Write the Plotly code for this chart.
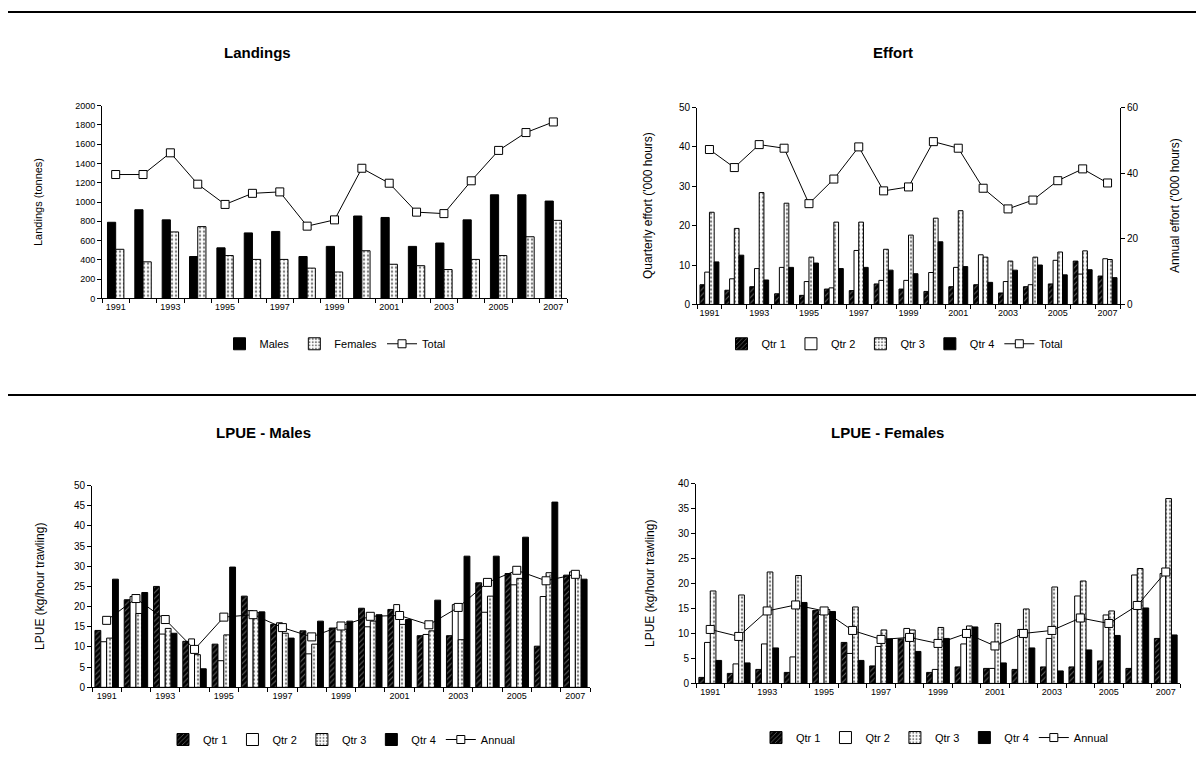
import plotly.graph_objects as go

PAGE_W, PAGE_H = 1204, 778
OFF = 8  # browser default body margin
W, H = PAGE_W - OFF, PAGE_H - OFF

years = [str(y) for y in range(1991, 2008)]
year_labels = [y if int(y) % 2 == 1 else "" for y in years]

# Landings (tonnes)
land_males = [790, 920, 815, 435, 525, 680, 695, 435, 540, 855, 840, 540, 575, 815, 1075, 1075, 1010]
land_females = [510, 380, 690, 745, 445, 405, 405, 315, 275, 495, 355, 340, 300, 405, 445, 640, 810]
land_total = [1285, 1285, 1510, 1185, 975, 1090, 1105, 750, 815, 1350, 1195, 895, 880, 1220, 1535, 1720, 1830]

# Effort ('000 hours)
eff_q1 = [5.0, 3.6, 4.5, 2.7, 2.3, 3.9, 3.5, 5.2, 3.9, 3.3, 4.5, 5.0, 2.9, 4.5, 5.2, 11.0, 7.2]
eff_q2 = [8.2, 6.5, 9.1, 9.4, 5.8, 4.2, 13.7, 6.1, 6.1, 8.1, 9.4, 12.6, 5.8, 5.0, 11.2, 7.7, 11.6]
eff_q3 = [23.4, 19.3, 28.4, 25.7, 12.0, 20.9, 20.9, 14.0, 17.6, 21.9, 23.8, 12.0, 11.0, 12.0, 13.3, 13.6, 11.4]
eff_q4 = [10.8, 12.5, 6.2, 9.4, 10.5, 9.1, 9.4, 8.7, 7.8, 15.9, 9.6, 5.6, 8.7, 10.0, 7.5, 8.8, 6.8]
eff_total = [47.2, 41.7, 48.7, 47.6, 30.7, 38.2, 48.0, 34.6, 35.8, 49.6, 47.6, 35.4, 29.1, 31.8, 37.7, 41.3, 37.0]

# LPUE Males (kg/hour trawling)
m_q1 = [14.1, 21.7, 25.0, 11.4, 10.7, 22.6, 15.6, 14.0, 14.7, 19.6, 19.3, 12.8, 12.8, 25.9, 28.2, 10.2, 27.8]
m_q2 = [11.3, 22.5, 13.2, 12.0, 6.6, 19.0, 16.0, 8.3, 11.3, 15.0, 20.5, 13.1, 20.5, 18.6, 25.4, 22.5, 28.6]
m_q3 = [12.2, 18.3, 14.6, 8.1, 13.0, 18.5, 13.4, 10.7, 14.4, 16.4, 15.6, 14.0, 11.8, 22.6, 27.0, 28.4, 27.8]
m_q4 = [26.8, 23.5, 13.4, 4.6, 29.8, 18.7, 12.2, 16.4, 16.4, 18.0, 16.8, 21.6, 32.5, 32.5, 37.2, 45.9, 26.8]
m_annual = [16.6, 22.0, 16.8, 9.4, 17.4, 18.0, 14.8, 12.5, 15.2, 17.6, 17.8, 15.5, 19.8, 26.0, 29.0, 26.4, 28.0]

# LPUE Females (kg/hour trawling)
f_q1 = [1.2, 2.0, 2.8, 2.2, 14.6, 8.2, 3.5, 8.9, 2.2, 3.3, 3.0, 2.8, 3.3, 3.3, 4.5, 3.0, 9.0]
f_q2 = [8.2, 3.9, 7.9, 5.3, 13.8, 6.0, 7.4, 11.0, 2.8, 7.9, 3.0, 10.8, 9.0, 17.5, 13.7, 21.7, 22.0]
f_q3 = [18.5, 17.7, 22.3, 21.6, 14.8, 15.3, 10.7, 10.7, 11.2, 11.5, 12.0, 14.9, 19.3, 20.5, 14.5, 23.0, 37.0]
f_q4 = [4.6, 4.1, 7.1, 16.2, 14.4, 4.6, 8.9, 6.4, 9.0, 11.3, 4.1, 7.1, 2.5, 6.7, 9.6, 15.1, 9.7]
f_annual = [10.8, 9.4, 14.5, 15.7, 14.5, 10.6, 8.8, 9.2, 8.0, 10.0, 7.5, 10.0, 10.6, 13.1, 12.0, 15.6, 22.3]

FONT = "Liberation Sans, Arial, sans-serif"


def fx(p):
    return (p - OFF) / W


def fy(p):
    return 1 - (p - OFF) / H


def px_x(a, b):
    return [fx(a), fx(b)]


def px_y(top, bottom):
    return [fy(bottom), fy(top)]


STYLES = {
    "hatch": dict(color="black", line=dict(color="black", width=1),
                  pattern=dict(shape="/", fgcolor="#c8c8c8", bgcolor="black", size=4, solidity=0.25)),
    "white": dict(color="white", line=dict(color="black", width=1)),
    "dots": dict(color="white", line=dict(color="black", width=1),
                 pattern=dict(shape=".", fgcolor="black", bgcolor="white", size=4, solidity=0.3)),
    "black": dict(color="black", line=dict(color="black", width=1)),
}

fig = go.Figure()


def add_bars(series, xa, ya, legend, width):
    n = len(series)
    for i, (name, vals, style) in enumerate(series):
        fig.add_trace(go.Bar(
            x=years, y=vals, name=name, xaxis=xa, yaxis=ya, legend=legend,
            width=width, offset=-n * width / 2 + i * width,
            marker=STYLES[style],
        ))


def add_line(name, vals, xa, ya, legend):
    fig.add_trace(go.Scatter(
        x=years, y=vals, name=name, xaxis=xa, yaxis=ya, legend=legend,
        mode="lines+markers",
        line=dict(color="black", width=1),
        marker=dict(symbol="square", size=8, color="white", line=dict(color="black", width=1)),
    ))


# Landings
add_bars([("Males", land_males, "black"), ("Females", land_females, "dots")], "x", "y", "legend", 0.3)
add_line("Total", land_total, "x", "y", "legend")

# Effort
add_bars([("Qtr 1", eff_q1, "hatch"), ("Qtr 2", eff_q2, "white"),
          ("Qtr 3", eff_q3, "dots"), ("Qtr 4", eff_q4, "black")], "x2", "y2", "legend2", 0.19)
add_line("Total", eff_total, "x2", "y3", "legend2")

# LPUE Males
add_bars([("Qtr 1", m_q1, "hatch"), ("Qtr 2", m_q2, "white"),
          ("Qtr 3", m_q3, "dots"), ("Qtr 4", m_q4, "black")], "x3", "y4", "legend3", 0.2)
add_line("Annual", m_annual, "x3", "y4", "legend3")

# LPUE Females
add_bars([("Qtr 1", f_q1, "hatch"), ("Qtr 2", f_q2, "white"),
          ("Qtr 3", f_q3, "dots"), ("Qtr 4", f_q4, "black")], "x4", "y5", "legend4", 0.2)
add_line("Annual", f_annual, "x4", "y5", "legend4")


def xaxis_cfg(domain, anchor):
    return dict(domain=domain, anchor=anchor, type="category",
                tickmode="array", tickvals=years, ticktext=year_labels,
                tickson="boundaries", ticks="outside", ticklen=4, tickcolor="black",
                showline=True, linecolor="black", linewidth=1, showgrid=False,
                tickfont=dict(size=9, color="black", family=FONT), tickangle=0,
                range=[-0.5, len(years) - 0.5], fixedrange=True)


def yaxis_cfg(domain, anchor, rng, dtick, tsize, side="left", overlaying=None):
    d = dict(domain=domain, anchor=anchor, range=rng, dtick=dtick, side=side,
             ticks="outside", ticklen=4, tickcolor="black",
             showline=True, linecolor="black", linewidth=1, showgrid=False, zeroline=False,
             tickfont=dict(size=tsize, color="black", family=FONT))
    if overlaying:
        d["overlaying"] = overlaying
    return d


land_x = px_x(102, 567)
land_y = px_y(101, 297)
eff_x = px_x(697, 1120)
eff_y = px_y(103, 303)
m_x = px_x(92, 590)
m_y = px_y(487, 692)
f_x = px_x(696, 1180)
f_y = px_y(485, 688)

fig.update_layout(
    width=W, height=H, margin=dict(l=0, r=0, t=0, b=0),
    paper_bgcolor="white", plot_bgcolor="white",
    font=dict(family=FONT, color="black"),
    barmode="group",
    xaxis=xaxis_cfg(land_x, "y"),
    yaxis=yaxis_cfg(land_y, "x", [0, 2000], 200, 9),
    xaxis2=xaxis_cfg(eff_x, "y2"),
    yaxis2=yaxis_cfg(eff_y, "x2", [0, 50], 10, 10),
    yaxis3=yaxis_cfg(eff_y, "x2", [0, 60], 20, 10, side="right", overlaying="y2"),
    xaxis3=xaxis_cfg(m_x, "y4"),
    yaxis4=yaxis_cfg(m_y, "x3", [0, 50], 5, 10),
    xaxis4=xaxis_cfg(f_x, "y5"),
    yaxis5=yaxis_cfg(f_y, "x4", [0, 40], 5, 10),
    showlegend=True,
)


def legend_cfg(xc, yc):
    return dict(orientation="h", x=fx(xc), y=fy(yc), xanchor="center", yanchor="middle",
                font=dict(size=11, color="black", family=FONT), bgcolor="rgba(0,0,0,0)",
                itemwidth=30, tracegroupgap=0)


fig.update_layout(
    legend=legend_cfg(335, 343),
    legend2=legend_cfg(895, 343),
    legend3=legend_cfg(342, 745),
    legend4=legend_cfg(935, 743),
)

titles = [("Landings", 257, 47), ("Effort", 893, 47), ("LPUE - Males", 263, 433), ("LPUE - Females", 887, 433)]
for text, xc, yc in titles:
    fig.add_annotation(text="<b>%s</b>" % text, x=fx(xc), y=fy(yc), xref="paper", yref="paper",
                       showarrow=False, xanchor="center", yanchor="middle",
                       font=dict(size=15, color="black", family=FONT))

axis_titles = [
    ("Landings (tonnes)", 38, 199, 11),
    ("Quarterly effort ('000 hours)", 648, 203, 12),
    ("Annual effort ('000 hours)", 1175, 203, 12),
    ("LPUE (kg/hour trawling)", 40, 590, 12),
    ("LPUE (kg/hour trawling)", 650, 587, 12),
]
for text, xc, yc, size in axis_titles:
    fig.add_annotation(text=text, x=fx(xc), y=fy(yc), xref="paper", yref="paper",
                       showarrow=False, xanchor="center", yanchor="middle", textangle=-90,
                       font=dict(size=size, color="black", family=FONT))

fig.add_shape(type="line", xref="paper", yref="paper", x0=fx(5), x1=1, y0=fy(6), y1=fy(6),
              line=dict(color="black", width=2))
fig.add_shape(type="line", xref="paper", yref="paper", x0=0, x1=1, y0=fy(395), y1=fy(395),
              line=dict(color="black", width=2))

fig.write_html("out.html")
